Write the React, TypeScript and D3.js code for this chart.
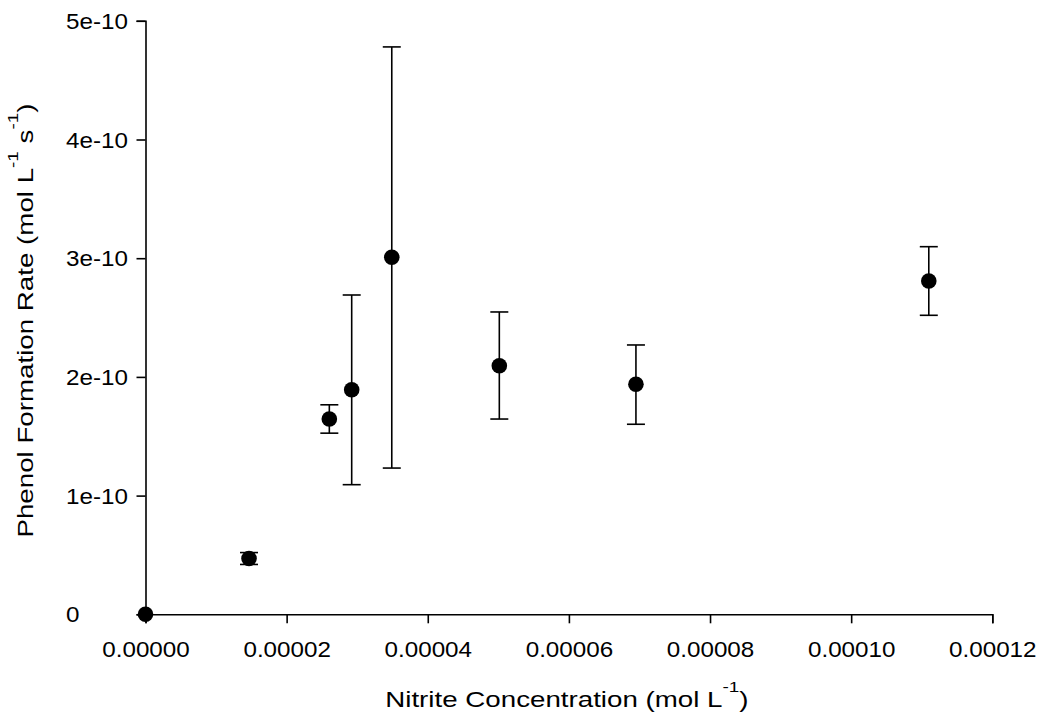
import React, { useEffect, useRef } from "react";
import * as d3 from "d3";

// nitrite concentration (mol L-1)
const nitrite = [0, 1.467e-5, 2.605e-5, 2.922e-5, 3.49e-5, 5.014e-5, 6.95e-5, 1.11e-4];
// phenol formation rate (mol L-1 s-1)
const rate = [0, 4.7e-11, 1.645e-10, 1.892e-10, 3.008e-10, 2.094e-10, 1.938e-10, 2.808e-10];
const errUpper = [0, 5.2e-11, 1.765e-10, 2.69e-10, 4.78e-10, 2.547e-10, 2.269e-10, 3.097e-10];
const errLower = [0, 4.2e-11, 1.526e-10, 1.092e-10, 1.232e-10, 1.645e-10, 1.601e-10, 2.519e-10];

const xTicks = [0, 0.00002, 0.00004, 0.00006, 0.00008, 0.0001, 0.00012];
const xTickLabels = ["0.00000", "0.00002", "0.00004", "0.00006", "0.00008", "0.00010", "0.00012"];
const yTicks = [0, 1e-10, 2e-10, 3e-10, 4e-10, 5e-10];
const yTickLabels = ["0", "1e-10", "2e-10", "3e-10", "4e-10", "5e-10"];

const App = () => {
  const chartRef = useRef<SVGSVGElement>(null);

  useEffect(() => {
    const width = 1040;
    const height = 721;
    const font = "Arial, 'Liberation Sans', sans-serif";
    const tickStretch = 1.1; // labels in the original are a bit wider than Arial
    const titleStretch = 1.26;

    const svg = d3.select(chartRef.current);
    svg.selectAll("*").remove();
    svg.attr("width", width).attr("height", height);

    const x = d3.scaleLinear().domain([0, 0.00012]).range([145.5, 992.3]);
    const y = d3.scaleLinear().domain([0, 5e-10]).range([614.3, 20.8]);

    // x axis
    const xAxis = svg
      .append("g")
      .attr("transform", `translate(0,${y(0)})`)
      .call(
        d3
          .axisBottom(x)
          .tickValues(xTicks)
          .tickSizeOuter(0)
          .tickSize(9)
          .tickFormat((d, i) => xTickLabels[i])
      );
    xAxis.select(".domain").attr("stroke", "#000").attr("stroke-width", 1.6);
    xAxis.selectAll(".tick line").attr("stroke", "#000").attr("stroke-width", 1.6);
    xAxis
      .selectAll(".tick text")
      .attr("y", 43)
      .attr("dy", 0)
      .attr("font-family", font)
      .attr("font-size", 22)
      .attr("fill", "#000")
      .attr("transform", `scale(${tickStretch},1)`);

    // y axis
    const yAxis = svg
      .append("g")
      .attr("transform", `translate(${x(0)},0)`)
      .call(
        d3
          .axisLeft(y)
          .tickValues(yTicks)
          .tickSizeOuter(0)
          .tickSize(9)
          .tickFormat((d, i) => yTickLabels[i])
      );
    yAxis.select(".domain").attr("stroke", "#000").attr("stroke-width", 1.6);
    yAxis.selectAll(".tick line").attr("stroke", "#000").attr("stroke-width", 1.6);
    yAxis
      .selectAll(".tick text")
      .attr("x", -79.5 / tickStretch)
      .attr("dy", 7.5)
      .attr("text-anchor", "start")
      .attr("font-family", font)
      .attr("font-size", 22)
      .attr("fill", "#000")
      .attr("transform", `scale(${tickStretch},1)`);

    const data = nitrite.map((n, i) => ({
      n,
      r: rate[i],
      hi: errUpper[i],
      lo: errLower[i],
    }));

    // error bars
    const bars = svg
      .append("g")
      .selectAll("g")
      .data(data.filter((d) => d.hi > d.lo))
      .enter()
      .append("g")
      .attr("stroke", "#000")
      .attr("stroke-width", 1.6);
    bars
      .append("line")
      .attr("x1", (d) => x(d.n))
      .attr("x2", (d) => x(d.n))
      .attr("y1", (d) => y(d.hi))
      .attr("y2", (d) => y(d.lo));
    bars
      .append("line")
      .attr("x1", (d) => x(d.n) - 9)
      .attr("x2", (d) => x(d.n) + 9)
      .attr("y1", (d) => y(d.hi))
      .attr("y2", (d) => y(d.hi));
    bars
      .append("line")
      .attr("x1", (d) => x(d.n) - 9)
      .attr("x2", (d) => x(d.n) + 9)
      .attr("y1", (d) => y(d.lo))
      .attr("y2", (d) => y(d.lo));

    // points
    svg
      .append("g")
      .selectAll("circle")
      .data(data)
      .enter()
      .append("circle")
      .attr("cx", (d) => x(d.n))
      .attr("cy", (d) => y(d.r))
      .attr("r", 7.8)
      .attr("fill", "#000");

    // axis titles
    const xTitle = svg
      .append("text")
      .attr("transform", `translate(${(x.range()[0] + x.range()[1]) / 2 - 2},707) scale(${titleStretch},1)`)
      .attr("text-anchor", "middle")
      .attr("font-family", font)
      .attr("font-size", 22)
      .attr("fill", "#000");
    xTitle.append("tspan").text("Nitrite Concentration (mol L");
    xTitle.append("tspan").attr("font-size", 15).attr("dy", -15).text("-1");
    xTitle.append("tspan").attr("dy", 15).text(")");

    const yTitle = svg
      .append("text")
      .attr("transform", `translate(33,${(y.range()[0] + y.range()[1]) / 2 + 3}) rotate(-90) scale(${titleStretch},1)`)
      .attr("text-anchor", "middle")
      .attr("font-family", font)
      .attr("font-size", 22)
      .attr("fill", "#000");
    yTitle.append("tspan").text("Phenol Formation Rate (mol L");
    yTitle.append("tspan").attr("font-size", 15).attr("dy", -15).text("-1");
    yTitle.append("tspan").attr("dy", 15).text(" s");
    yTitle.append("tspan").attr("font-size", 15).attr("dy", -15).text("-1");
    yTitle.append("tspan").attr("dy", 15).text(")");
  }, []);

  return (
    <div style={{ position: "absolute", left: 0, top: 0 }}>
      <svg ref={chartRef} style={{ display: "block", background: "#fff" }}></svg>
    </div>
  );
};

export default App;
